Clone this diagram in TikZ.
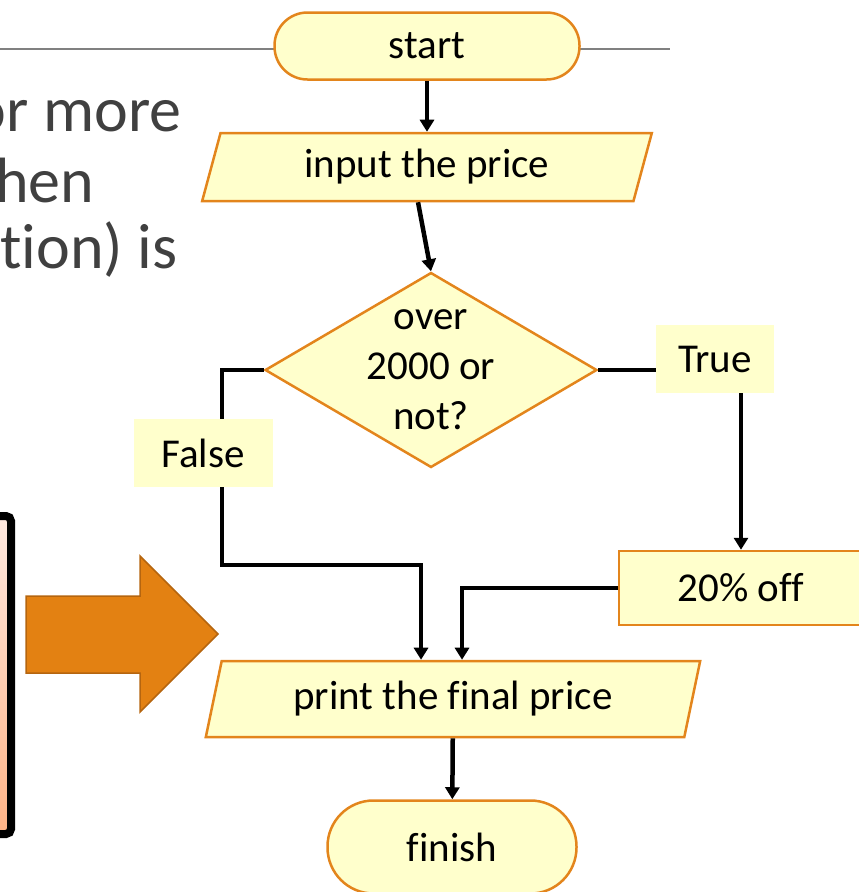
\documentclass[tikz,border=0pt]{standalone}
\usepackage{fontspec}
\setmainfont{Carlito}[Ligatures=CommonOff]
\usetikzlibrary{shapes.geometric,arrows.meta}
\definecolor{boxfill}{HTML}{FFFFCC}
\definecolor{boxline}{HTML}{E3851C}
\definecolor{slidegray}{HTML}{404040}
\definecolor{bigarrow}{HTML}{E38112}
\definecolor{bigarrowline}{HTML}{B5650F}
\definecolor{peachtop}{HTML}{FFE9E0}
\definecolor{peachbottom}{HTML}{FFB386}

\begin{document}
\begin{tikzpicture}[x=1pt,y=-1pt,
    every node/.style={font=\fontsize{41}{50}\selectfont},
    term/.style={draw=boxline,fill=boxfill,line width=2.5pt,rectangle},
    io/.style={draw=boxline,fill=boxfill,line width=2.5pt,trapezium,
      trapezium left angle=75,trapezium right angle=105,trapezium stretches=true},
    decision/.style={draw=boxline,fill=boxfill,line width=2.5pt,diamond,inner sep=0pt,
      minimum width=332pt,minimum height=195pt},
    tag/.style={fill=boxfill,minimum width=118pt,minimum height=68pt},
    link/.style={line width=4.5pt},
    flow/.style={line width=4.5pt,-{Triangle[width=14pt,length=12pt]}}]
      \useasboundingbox (0,0) rectangle (859,892) ;
      % slide behind the chart
      \draw[line width=2pt,gray] (0,49)--(670,49) ;
      \node[slidegray,anchor=base east,font=\fontsize{64}{70}\selectfont] at (185,131) {or more} ;
      \node[slidegray,anchor=base east,font=\fontsize{64}{70}\selectfont] at (98,202) {hen} ;
      \node[slidegray,anchor=base east,font=\fontsize{64}{70}\selectfont] at (181,268) {tion) is} ;
      \shade[top color=peachtop,bottom color=peachbottom,draw=black,
        line width=8pt,rounded corners=5pt] (-30,516) rectangle (11,834) ;
      \draw[fill=bigarrow,draw=bigarrowline,line width=1.5pt] %
        (26,596)--(140,596)--(140,556)--(218,634)--(140,712)--(140,673)--(26,673)--cycle ;
      % flowchart
      \node[term,rounded corners=33pt,minimum width=305pt,minimum height=67pt] (start) at (427,46) {start} ;
      \node[io,minimum width=450pt,minimum height=68pt] (input) at (427,167) {input the price} ;
      \node[decision] (dec) at (431,370) {} ;
      \node[align=center] at (dec) {over\\2000 or\\not?} ;
      \node[tag] (true) at (715,359) {True} ;
      \node[tag,minimum width=139pt] (false) at (203,453) {False} ;
      \node[term,minimum width=244pt,minimum height=74pt] (off) at (741,588) {20\% off} ;
      \node[io,minimum width=495pt,minimum height=76pt] (print) at (453,699) {print the final price} ;
      \node[term,rounded corners=46pt,minimum width=249pt,minimum height=93pt] (finish) at (452,847) {finish} ;
      \coordinate (fbend) at (222,565) ;
      \draw[flow] (start)--(input) ;
      \draw[flow] ([xshift=-9pt]input.south)--(dec.north) ;
      \draw[link] (dec.east)--(dec.east -| true.west) ;
      \draw[flow] (true.south -| off.north)--(off.north) ;
      \draw[link] (dec.west)-|(fbend |- false.north) ;
      \draw[flow] (fbend |- false.south)--(fbend)-|([xshift=-32pt]print.north) ;
      \draw[flow] (off.west)-|([xshift=9pt]print.north) ;
      \draw[flow] (print)--(finish) ;
    \end{tikzpicture}
\end{document}
